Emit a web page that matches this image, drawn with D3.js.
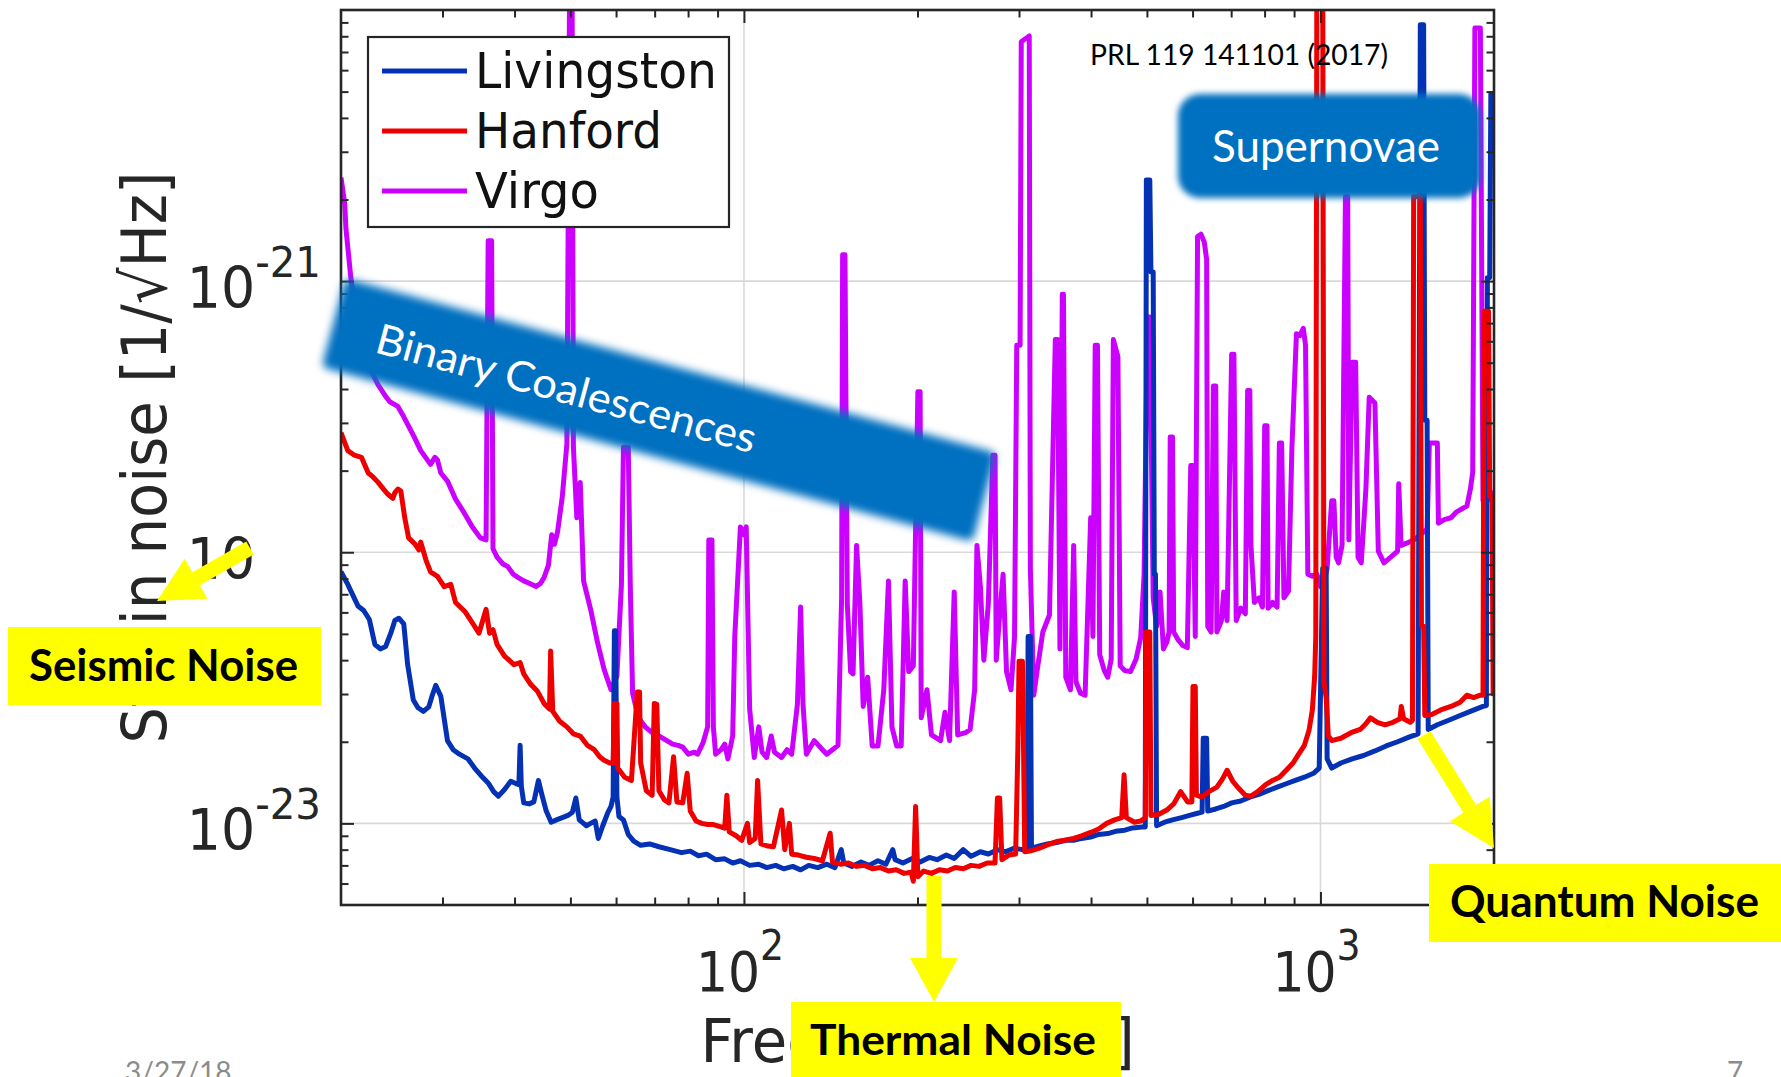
<!DOCTYPE html>
<html>
<head>
<meta charset="utf-8">
<script src="https://cdn.jsdelivr.net/npm/d3@7"></script>
<style>
  html, body { margin: 0; padding: 0; background: #ffffff; overflow: hidden; }
  svg { display: block; }
</style>
</head>
<body>
<svg id="chart" width="1781" height="1077"></svg>
<script>
// Strain noise amplitude spectral density of the three detectors, [frequency Hz, strain 1/sqrt(Hz)]
const livingston = [
  [20.0, 8.47e-23], [20.5, 7.69e-23], [20.9, 7.05e-23], [21.4, 6.34e-23], [21.9, 6.10e-23],
  [22.4, 5.65e-23], [22.9, 4.57e-23], [23.4, 4.40e-23], [23.9, 4.49e-23], [24.4, 5.03e-23],
  [24.8, 5.60e-23], [25.2, 5.71e-23], [25.7, 5.44e-23], [26.1, 3.85e-23], [26.7, 2.85e-23],
  [27.2, 2.67e-23], [27.8, 2.59e-23], [28.4, 2.69e-23], [28.8, 2.97e-23], [29.2, 3.23e-23],
  [29.8, 2.94e-23], [30.6, 2.02e-23], [31.3, 1.87e-23], [32.1, 1.80e-23], [33.2, 1.73e-23],
  [34.1, 1.60e-23], [35.0, 1.50e-23], [36.0, 1.41e-23], [36.8, 1.31e-23], [37.5, 1.26e-23],
  [38.4, 1.33e-23], [39.4, 1.43e-23], [40.3, 1.40e-23], [40.7, 1.39e-23], [40.9, 1.94e-23],
  [41.1, 1.37e-23], [41.5, 1.19e-23], [42.4, 1.18e-23], [43.2, 1.20e-23], [44.0, 1.44e-23],
  [44.6, 1.28e-23], [45.4, 1.11e-23], [46.3, 1.01e-23], [47.3, 1.03e-23], [48.4, 1.05e-23],
  [49.5, 1.07e-23], [50.4, 1.10e-23], [51.1, 1.24e-23], [51.8, 1.03e-23], [53.3, 9.8e-24],
  [54.2, 1.00e-23], [55.2, 1.02e-23], [55.9, 8.8e-24], [56.9, 9.8e-24], [58.0, 1.09e-23],
  [58.8, 1.155e-23], [59.3, 1.25e-23], [59.6, 5.13e-23], [59.9, 5.13e-23], [60.2, 1.25e-23],
  [60.7, 1.06e-23], [61.8, 1.03e-23], [63.0, 9.1e-24], [64.4, 8.6e-24], [66.2, 8.3e-24],
  [68.6, 8.4e-24], [71.2, 8.2e-24], [74.5, 8.0e-24], [77.9, 7.8e-24], [80.7, 7.9e-24],
  [83.4, 7.6e-24], [86.1, 7.7e-24], [89.3, 7.35e-24], [92.6, 7.4e-24], [95.6, 7.14e-24],
  [98.6, 7.28e-24], [102.3, 7.0e-24], [106.1, 7.07e-24], [109.5, 6.87e-24], [113.5, 7.0e-24],
  [117.2, 6.8e-24], [121.5, 6.94e-24], [125.4, 6.74e-24], [129.5, 7.0e-24], [134.3, 6.87e-24],
  [139.2, 7.07e-24], [143.8, 6.87e-24], [147.5, 8.0e-24], [149.0, 7.14e-24], [153.9, 6.94e-24],
  [159.6, 7.2e-24], [164.7, 7.0e-24], [170.8, 7.28e-24], [176.3, 7.07e-24], [181.2, 8.0e-24],
  [182.9, 7.35e-24], [188.7, 7.14e-24], [195.8, 7.42e-24], [202.1, 7.2e-24], [209.6, 7.49e-24],
  [216.3, 7.35e-24], [224.4, 7.64e-24], [231.6, 7.42e-24], [240.1, 8.0e-24], [247.7, 7.56e-24],
  [257.1, 7.86e-24], [265.4, 7.71e-24], [275.2, 8.0e-24], [283.9, 7.86e-24], [294.7, 8.1e-24],
  [304.1, 8.0e-24], [309.7, 8.0e-24], [311.1, 4.89e-23], [313.9, 4.89e-23], [315.3, 8.1e-24],
  [325.6, 8.25e-24], [336.0, 8.4e-24], [348.5, 8.5e-24], [361.4, 8.66e-24], [373.2, 8.66e-24],
  [385.1, 8.8e-24], [399.4, 8.9e-24], [412.3, 9.1e-24], [427.6, 9.17e-24], [441.3, 9.35e-24],
  [457.7, 9.44e-24], [472.4, 9.62e-24], [490.0, 9.7e-24], [496.7, 9.7e-24], [498.9, 2.36e-21],
  [505.8, 2.36e-21], [508.1, 1.08e-21], [512.7, 1.08e-21], [515.0, 8.3e-23], [517.4, 8.3e-23],
  [519.7, 9.8e-24], [536.5, 1.01e-23], [553.8, 1.03e-23], [574.3, 1.05e-23], [592.9, 1.07e-23],
  [612.1, 1.09e-23], [623.3, 1.10e-23], [626.1, 2.06e-23], [634.6, 2.06e-23], [637.5, 1.11e-23],
  [658.2, 1.13e-23], [679.4, 1.155e-23], [701.4, 1.19e-23], [727.3, 1.21e-23], [754.2, 1.25e-23],
  [782.1, 1.28e-23], [811.0, 1.32e-23], [841.0, 1.36e-23], [872.2, 1.40e-23], [904.4, 1.44e-23],
  [937.9, 1.48e-23], [972.6, 1.53e-23], [995.0, 1.60e-23], [1009, 8.71e-23], [1023, 8.71e-23],
  [1027, 1.73e-23], [1046, 1.60e-23], [1085, 1.67e-23], [1135, 1.73e-23], [1188, 1.78e-23],
  [1243, 1.85e-23], [1300, 1.93e-23], [1361, 2.00e-23], [1424, 2.08e-23], [1477, 2.14e-23],
  [1490, 8.83e-21], [1510, 8.83e-21], [1517, 3.07e-22], [1531, 3.07e-22], [1538, 2.22e-23],
  [1595, 2.31e-23], [1669, 2.40e-23], [1747, 2.50e-23], [1829, 2.60e-23], [1914, 2.70e-23],
  [1940, 2.72e-23], [1948, 1.03e-21], [1966, 1.03e-21], [1975, 4.91e-21], [2000, 4.91e-21]
];

const hanford = [
  [20.0, 2.76e-22], [20.55, 2.37e-22], [21.1, 2.28e-22], [21.7, 2.24e-22], [22.3, 1.96e-22],
  [22.7, 1.90e-22], [23.2, 1.81e-22], [23.7, 1.71e-22], [24.1, 1.64e-22], [24.6, 1.58e-22],
  [24.8, 1.66e-22], [25.1, 1.71e-22], [25.4, 1.68e-22], [25.8, 1.34e-22], [26.2, 1.13e-22],
  [26.9, 1.07e-22], [27.3, 1.02e-22], [27.5, 1.09e-22], [28.1, 9.32e-23], [28.6, 8.47e-23],
  [29.4, 8.15e-23], [30.2, 7.47e-23], [31.0, 7.62e-23], [31.6, 6.53e-23], [32.8, 6.05e-23],
  [33.8, 5.49e-23], [34.7, 5.03e-23], [35.7, 6.16e-23], [36.2, 5.03e-23], [36.7, 5.18e-23],
  [37.3, 4.57e-23], [38.4, 4.15e-23], [39.9, 3.85e-23], [40.9, 3.92e-23], [41.5, 3.56e-23],
  [42.6, 3.27e-23], [43.8, 3.08e-23], [45.0, 2.77e-23], [46.0, 2.64e-23], [46.2, 4.32e-23],
  [46.6, 2.59e-23], [47.9, 2.38e-23], [49.3, 2.27e-23], [50.6, 2.14e-23], [52.0, 2.10e-23],
  [53.5, 1.94e-23], [55.0, 1.87e-23], [56.2, 1.76e-23], [57.2, 1.71e-23], [58.5, 1.67e-23],
  [59.3, 1.67e-23], [59.6, 2.77e-23], [60.2, 2.77e-23], [60.4, 1.60e-23], [62.1, 1.48e-23],
  [63.8, 1.44e-23], [65.3, 3.05e-23], [65.9, 3.05e-23], [66.2, 1.67e-23], [67.7, 1.32e-23],
  [69.3, 1.27e-23], [69.9, 2.77e-23], [70.6, 2.75e-23], [71.2, 1.32e-23], [72.8, 1.22e-23],
  [74.1, 1.19e-23], [75.5, 1.76e-23], [76.5, 1.20e-23], [78.3, 1.19e-23], [79.7, 1.53e-23],
  [80.7, 1.11e-23], [82.6, 1.02e-23], [84.5, 1.00e-23], [86.5, 9.9e-24], [88.5, 9.9e-24],
  [91.2, 9.7e-24], [92.6, 9.6e-24], [93.4, 1.27e-23], [94.3, 9.3e-24], [96.9, 9.0e-24],
  [99.1, 8.66e-24], [101.4, 1.00e-23], [102.3, 8.5e-24], [104.6, 8.8e-24], [105.6, 1.44e-23],
  [107.0, 8.4e-24], [110.0, 8.25e-24], [112.5, 8.2e-24], [116.2, 1.12e-23], [117.7, 8.0e-24],
  [119.9, 1.00e-23], [121.0, 7.7e-24], [124.3, 7.64e-24], [128.3, 7.5e-24], [132.4, 7.42e-24],
  [136.8, 7.28e-24], [141.1, 9.2e-24], [142.4, 7.2e-24], [147.0, 7.07e-24], [151.8, 7.14e-24],
  [156.8, 6.94e-24], [161.8, 7.0e-24], [167.0, 6.8e-24], [172.5, 6.87e-24], [178.1, 6.67e-24],
  [183.7, 6.74e-24], [189.6, 6.54e-24], [195.0, 6.6e-24], [196.7, 6.12e-24], [198.5, 1.155e-23],
  [200.3, 6.36e-24], [204.9, 6.67e-24], [211.5, 6.54e-24], [218.3, 6.74e-24], [225.4, 6.67e-24],
  [232.6, 6.87e-24], [240.1, 6.8e-24], [247.7, 7.0e-24], [255.6, 6.94e-24], [264.2, 7.14e-24],
  [272.6, 7.14e-24], [275.2, 1.24e-23], [277.7, 1.24e-23], [280.2, 7.35e-24], [288.0, 7.64e-24],
  [296.0, 7.71e-24], [298.6, 1.87e-23], [300.0, 3.96e-23], [304.1, 3.96e-23], [305.5, 1.87e-23],
  [306.9, 7.86e-24], [315.3, 7.93e-24], [325.6, 8.1e-24], [336.0, 8.33e-24], [348.5, 8.57e-24],
  [359.7, 8.66e-24], [373.2, 8.8e-24], [385.1, 9.0e-24], [399.4, 9.26e-24], [412.3, 9.53e-24],
  [425.7, 1.00e-23], [439.3, 1.03e-23], [452.1, 1.05e-23], [456.4, 1.51e-23], [460.6, 1.05e-23],
  [475.8, 1.01e-23], [487.8, 1.02e-23], [496.7, 1.05e-23], [498.9, 5.08e-23], [505.8, 5.08e-23],
  [508.1, 1.07e-23], [524.5, 1.08e-23], [541.4, 1.12e-23], [556.4, 1.18e-23], [572.2, 1.31e-23],
  [588.2, 1.20e-23], [598.3, 1.20e-23], [601.0, 3.20e-23], [606.5, 3.20e-23], [609.3, 1.27e-23],
  [623.3, 1.25e-23], [640.4, 1.31e-23], [661.2, 1.36e-23], [676.3, 1.46e-23], [688.7, 1.57e-23],
  [704.5, 1.43e-23], [720.7, 1.35e-23], [740.5, 1.27e-23], [757.6, 1.26e-23], [778.5, 1.31e-23],
  [803.6, 1.39e-23], [825.9, 1.44e-23], [848.7, 1.48e-23], [872.2, 1.57e-23], [896.3, 1.67e-23],
  [916.7, 1.80e-23], [937.9, 1.94e-23], [955.2, 2.20e-23], [968.2, 2.62e-23], [977.1, 3.49e-23],
  [981.5, 4.89e-23], [986.0, 2.0e-20], [1009, 2.0e-20], [1014, 3.33e-23], [1023, 2.91e-23],
  [1032, 2.10e-23], [1046, 2.02e-23], [1085, 2.06e-23], [1130, 2.16e-23], [1172, 2.22e-23],
  [1199, 2.33e-23], [1221, 2.45e-23], [1255, 2.36e-23], [1294, 2.31e-23], [1336, 2.36e-23],
  [1374, 2.43e-23], [1381, 2.70e-23], [1394, 2.43e-23], [1431, 2.36e-23], [1444, 2.40e-23],
  [1451, 2.05e-21], [1490, 2.05e-21], [1497, 5.33e-23], [1510, 5.33e-23], [1517, 2.50e-23],
  [1559, 2.52e-23], [1617, 2.62e-23], [1684, 2.70e-23], [1747, 2.80e-23], [1795, 2.97e-23],
  [1843, 2.91e-23], [1894, 2.97e-23], [1914, 2.97e-23], [1922, 7.74e-22], [1957, 7.74e-22],
  [1966, 1.61e-22], [1984, 1.61e-22], [1993, 3.0e-23], [2000, 3.0e-23]
];

const virgo = [
  [20.0, 2.41e-21], [20.3, 1.93e-21], [20.4, 1.56e-21], [20.8, 1.03e-21], [21.2, 7.59e-22],
  [21.7, 5.97e-22], [22.4, 4.83e-22], [23.2, 4.14e-22], [23.9, 3.76e-22], [24.3, 3.59e-22],
  [25.1, 3.45e-22], [25.7, 3.16e-22], [26.1, 2.96e-22], [26.8, 2.66e-22], [27.5, 2.37e-22],
  [28.6, 2.11e-22], [29.1, 2.24e-22], [29.4, 2.19e-22], [29.8, 1.96e-22], [30.6, 1.83e-22],
  [31.6, 1.57e-22], [32.7, 1.40e-22], [33.8, 1.24e-22], [34.9, 1.13e-22], [35.7, 1.11e-22],
  [36.0, 1.41e-21], [36.5, 1.41e-21], [36.7, 1.03e-22], [37.3, 9.59e-23], [38.2, 9.05e-23],
  [38.9, 8.87e-23], [39.8, 8.30e-23], [40.6, 8.06e-23], [41.5, 7.84e-23], [42.4, 7.69e-23],
  [43.6, 7.47e-23], [44.4, 7.69e-23], [45.0, 8.06e-23], [45.8, 8.97e-23], [46.4, 1.16e-22],
  [46.9, 1.07e-22], [47.5, 1.19e-22], [48.4, 1.60e-22], [49.3, 2.51e-22], [49.9, 2.0e-20],
  [50.3, 2.0e-20], [50.6, 2.44e-22], [51.3, 1.34e-22], [52.0, 1.81e-22], [52.7, 7.84e-23],
  [54.2, 6.16e-23], [55.7, 4.66e-23], [57.2, 3.70e-23], [58.8, 3.11e-23], [60.2, 3.49e-23],
  [61.3, 7.62e-23], [61.8, 2.44e-22], [63.0, 2.44e-22], [63.5, 7.62e-23], [64.1, 3.02e-23],
  [65.6, 2.45e-23], [67.4, 2.27e-23], [69.3, 2.16e-23], [71.2, 2.10e-23], [73.5, 2.02e-23],
  [75.2, 1.96e-23], [76.9, 1.94e-23], [78.3, 1.91e-23], [80.1, 1.80e-23], [82.0, 1.83e-23],
  [83.1, 1.80e-23], [84.9, 1.98e-23], [86.5, 2.27e-23], [86.9, 1.11e-22], [88.0, 1.11e-22],
  [88.5, 2.27e-23], [89.3, 1.80e-23], [91.3, 1.87e-23], [92.6, 1.96e-23], [93.8, 1.73e-23],
  [95.6, 2.10e-23], [96.4, 4.89e-23], [98.6, 1.24e-22], [100.0, 1.16e-22], [100.9, 1.24e-22],
  [102.3, 2.64e-23], [104.2, 1.75e-23], [106.1, 2.27e-23], [107.5, 1.83e-23], [109.5, 1.75e-23],
  [111.5, 2.10e-23], [113.0, 1.83e-23], [116.2, 1.75e-23], [118.8, 1.87e-23], [121.0, 1.80e-23],
  [123.8, 2.75e-23], [125.4, 6.28e-23], [126.6, 2.75e-23], [128.3, 1.80e-23], [132.4, 2.02e-23],
  [136.2, 1.89e-23], [139.2, 1.80e-23], [142.4, 1.87e-23], [145.6, 1.94e-23], [147.7, 6.79e-23],
  [148.3, 1.25e-21], [149.7, 1.25e-21], [151.1, 6.47e-23], [153.1, 3.63e-23], [154.6, 3.56e-23],
  [156.8, 1.06e-22], [158.9, 6.47e-23], [161.0, 2.70e-23], [163.9, 3.46e-23], [166.9, 1.93e-23],
  [170.8, 1.93e-23], [174.8, 3.11e-23], [178.1, 7.84e-23], [180.6, 2.27e-23], [184.0, 1.93e-23],
  [187.4, 1.93e-23], [190.4, 7.84e-23], [193.1, 3.63e-23], [196.7, 3.81e-23], [200.3, 3.91e-22],
  [202.1, 3.91e-22], [203.0, 2.45e-23], [207.7, 3.11e-23], [211.5, 2.12e-23], [219.3, 2.02e-23],
  [223.2, 2.57e-23], [227.3, 2.02e-23], [231.6, 7.14e-23], [234.8, 2.12e-23], [242.3, 2.16e-23],
  [246.8, 2.22e-23], [251.3, 3.11e-23], [253.6, 1.06e-22], [257.1, 7.47e-23], [260.7, 4.00e-23],
  [265.4, 6.47e-23], [270.2, 2.28e-22], [272.6, 2.28e-22], [273.9, 4.00e-23], [277.7, 5.87e-23],
  [281.5, 8.30e-23], [285.4, 3.63e-23], [290.6, 3.11e-23], [294.7, 4.89e-23], [297.3, 5.80e-22],
  [301.3, 5.80e-22], [302.7, 7.64e-21], [312.5, 8.02e-21], [313.9, 8.71e-23], [318.2, 2.97e-23],
  [322.5, 3.66e-23], [329.9, 5.08e-23], [338.8, 5.87e-23], [346.8, 6.09e-22], [350.0, 6.09e-22],
  [353.3, 4.40e-23], [356.6, 8.94e-22], [358.3, 8.94e-22], [361.6, 3.46e-23], [368.4, 3.11e-23],
  [373.2, 1.06e-22], [376.6, 3.33e-23], [383.5, 3.02e-23], [390.6, 2.97e-23], [399.4, 1.34e-22],
  [403.0, 4.89e-23], [406.7, 5.80e-22], [410.4, 5.80e-22], [414.1, 4.19e-23], [421.7, 3.66e-23],
  [427.6, 3.46e-23], [433.5, 4.04e-23], [437.3, 6.09e-22], [445.3, 5.27e-22], [449.4, 3.81e-23],
  [457.7, 3.66e-23], [468.4, 3.63e-23], [478.9, 4.04e-23], [487.8, 4.85e-23], [494.4, 8.30e-23],
  [501.2, 7.38e-22], [505.8, 7.38e-22], [512.7, 6.79e-23], [519.7, 5.33e-23], [526.9, 7.14e-23],
  [534.1, 4.40e-23], [541.4, 4.66e-23], [546.3, 5.08e-23], [548.8, 2.66e-22], [553.8, 2.66e-22],
  [556.4, 5.08e-23], [566.6, 4.75e-23], [577.0, 4.53e-23], [587.6, 4.45e-23], [595.7, 2.09e-22],
  [601.0, 2.09e-22], [606.5, 4.89e-23], [612.1, 1.46e-21], [620.5, 1.49e-21], [628.9, 1.39e-21],
  [634.7, 1.20e-21], [637.5, 5.33e-23], [646.2, 5.08e-23], [652.1, 4.10e-22], [658.2, 4.10e-22],
  [661.2, 5.08e-23], [673.3, 5.60e-23], [679.5, 7.14e-23], [688.7, 5.60e-23], [701.4, 5.37e-22],
  [707.8, 5.37e-22], [714.3, 5.60e-23], [727.4, 6.22e-23], [740.8, 5.93e-23], [747.6, 3.95e-22],
  [754.2, 3.95e-22], [757.6, 1.06e-22], [768.0, 6.53e-23], [782.4, 6.79e-23], [793.2, 6.28e-23],
  [800.4, 2.93e-22], [807.7, 2.93e-22], [811.4, 6.22e-23], [825.9, 6.53e-23], [841.0, 6.28e-23],
  [848.7, 2.53e-22], [856.4, 2.53e-22], [864.3, 6.79e-23], [880.1, 7.19e-23], [892.2, 2.42e-22],
  [908.5, 6.39e-22], [921.0, 6.30e-22], [933.7, 6.70e-22], [942.2, 5.80e-22], [950.8, 8.30e-23],
  [968.2, 8.15e-23], [986.0, 8.30e-23], [1000, 7.47e-23], [1014, 7.76e-23], [1027, 8.71e-23],
  [1046, 1.55e-22], [1055, 1.55e-22], [1065, 9.59e-23], [1075, 9.14e-23], [1090, 1.06e-22],
  [1105, 2.05e-21], [1115, 2.05e-21], [1120, 1.11e-22], [1135, 5.02e-22], [1151, 5.02e-22],
  [1162, 9.59e-23], [1177, 9.14e-23], [1199, 1.71e-22], [1215, 3.73e-22], [1243, 3.55e-22],
  [1260, 1.01e-22], [1289, 9.14e-23], [1324, 9.59e-23], [1361, 1.01e-22], [1367, 1.79e-22],
  [1380, 1.06e-22], [1411, 1.08e-22], [1451, 1.11e-22], [1490, 1.16e-22], [1531, 1.22e-22],
  [1545, 2.53e-22], [1595, 2.53e-22], [1602, 1.28e-22], [1639, 1.32e-22], [1684, 1.34e-22],
  [1723, 1.41e-22], [1763, 1.45e-22], [1795, 1.48e-22], [1820, 1.71e-22], [1837, 1.97e-22],
  [1853, 8.58e-21], [1894, 8.58e-21], [1914, 1.55e-22], [1948, 1.55e-22], [1984, 1.63e-22],
  [2000, 1.68e-22]
];

const legendNames = ["Livingston", "Hanford", "Virgo"];
const xTickMajor = [100, 1000];
const xTickExponents = ["2", "3"];
const xTickMinor = [30, 40, 50, 60, 70, 80, 90, 200, 300, 400, 500, 600, 700, 800, 900];
const yTickMajor = [1e-23, 1e-22, 1e-21];
const yTickExponents = ["-23", "-22", "-21"];
const yTickMinor = [6e-24, 7e-24, 8e-24, 9e-24,
  2e-23, 3e-23, 4e-23, 5e-23, 6e-23, 7e-23, 8e-23, 9e-23,
  2e-22, 3e-22, 4e-22, 5e-22, 6e-22, 7e-22, 8e-22, 9e-22,
  2e-21, 3e-21, 4e-21, 5e-21, 6e-21, 7e-21, 8e-21, 9e-21];
const xLabel = "Frequency [Hz]";
const yLabel = "Strain noise [1/\u221AHz]";
const citation = "PRL 119 141101 (2017)";
const sourceBands = ["Binary Coalescences", "Supernovae"];
const noiseLabels = ["Seismic Noise", "Thermal Noise", "Quantum Noise"];
const slideFooter = ["3/27/18", "7"];

// ---------------------------------------------------------------------------
const svg = d3.select("#chart");
const plot = { left: 341, right: 1494, top: 10, bottom: 905 };
const x = d3.scaleLog().domain([20, 2000]).range([plot.left, plot.right]);
const y = d3.scaleLog().domain([5e-24, 1e-20]).range([plot.bottom, plot.top]);

const axisColor = "#262626";
const colors = { Livingston: "#0532b4", Hanford: "#ee0000", Virgo: "#cc00ff" };

const defs = svg.append("defs");
defs.append("clipPath").attr("id", "plot-clip").append("rect")
  .attr("x", plot.left).attr("y", plot.top)
  .attr("width", plot.right - plot.left).attr("height", plot.bottom - plot.top);
const soft4 = defs.append("filter").attr("id", "soft4")
  .attr("x", "-10%").attr("y", "-40%").attr("width", "120%").attr("height", "180%");
soft4.append("feGaussianBlur").attr("stdDeviation", 4);
const soft3 = defs.append("filter").attr("id", "soft3")
  .attr("x", "-10%").attr("y", "-20%").attr("width", "120%").attr("height", "140%");
soft3.append("feGaussianBlur").attr("stdDeviation", 3);

// grid lines at the decades
const grid = svg.append("g").attr("stroke", "#d9d9d9").attr("stroke-width", 1.6);
grid.selectAll("line.gx").data(xTickMajor).join("line")
  .attr("x1", d => x(d)).attr("x2", d => x(d)).attr("y1", plot.top).attr("y2", plot.bottom);
grid.selectAll("line.gy").data(yTickMajor).join("line")
  .attr("x1", plot.left).attr("x2", plot.right).attr("y1", d => y(d)).attr("y2", d => y(d));

// spectra
const line = d3.line().x(d => x(d[0])).y(d => y(d[1]));
const curves = svg.append("g").attr("clip-path", "url(#plot-clip)")
  .attr("fill", "none").attr("stroke-width", 5)
  .attr("stroke-linejoin", "round").attr("stroke-linecap", "butt");
curves.append("path").datum(virgo).attr("stroke", colors.Virgo).attr("d", line);
curves.append("path").datum(livingston).attr("stroke", colors.Livingston).attr("d", line);
curves.append("path").datum(hanford).attr("stroke", colors.Hanford).attr("d", line);

// inward ticks on all four sides
function tickSet(axis, values, size, transform) {
  svg.append("g").attr("transform", transform)
    .call(axis.tickValues(values).tickSizeInner(-size).tickSizeOuter(0).tickFormat(""))
    .call(g => g.select(".domain").remove())
    .call(g => g.selectAll("text").remove())
    .call(g => g.selectAll("line").attr("stroke", axisColor).attr("stroke-width", 2));
}
[[xTickMajor, 13], [xTickMinor, 7.5]].forEach(([vals, s]) => {
  tickSet(d3.axisBottom(x), vals, s, `translate(0,${plot.bottom})`);
  tickSet(d3.axisTop(x), vals, s, `translate(0,${plot.top})`);
});
[[yTickMajor, 13], [yTickMinor, 7.5]].forEach(([vals, s]) => {
  tickSet(d3.axisLeft(y), vals, s, `translate(${plot.left},0)`);
  tickSet(d3.axisRight(y), vals, s, `translate(${plot.right},0)`);
});
svg.append("rect").attr("x", plot.left).attr("y", plot.top)
  .attr("width", plot.right - plot.left).attr("height", plot.bottom - plot.top)
  .attr("fill", "none").attr("stroke", axisColor).attr("stroke-width", 2.6);

// text helper: optional rotation and horizontal squeeze in the text's own frame
function label(parent, str, px, py, o) {
  let tf = `translate(${px},${py})`;
  if (o.rotate) tf += ` rotate(${o.rotate})`;
  if (o.sx) tf += ` scale(${o.sx},1)`;
  const t = parent.append("g").attr("transform", tf).append("text")
    .attr("font-family", o.family).attr("font-size", o.size)
    .attr("font-weight", o.weight || "normal").attr("fill", o.fill)
    .attr("text-anchor", o.anchor || "start").text(str);
  if (o.length) t.attr("textLength", o.length).attr("lengthAdjust", "spacingAndGlyphs");
  return t;
}
const sans = "'DejaVu Sans', Verdana, sans-serif";
const office = "Lato, 'Open Sans', sans-serif";

// decade tick labels with superscript exponents
function powerLabel(px, py, exponent, anchor, sx) {
  const t = svg.append("g").attr("transform", `translate(${px},${py}) scale(${sx},1)`)
    .append("text").attr("font-family", sans).attr("font-size", 56)
    .attr("fill", axisColor).attr("text-anchor", anchor);
  t.append("tspan").text("10");
  t.append("tspan").attr("dy", -31).attr("font-size", 42).text(exponent);
}
xTickMajor.forEach((v, i) => powerLabel(x(v) - 4, 991, xTickExponents[i], "middle", 0.9));
yTickMajor.forEach((v, i) => powerLabel(321, y(v) + 27, yTickExponents[i], "end", 0.96));

// axis titles
label(svg, xLabel, (plot.left + plot.right) / 2, 1062,
  { family: sans, size: 60, fill: axisColor, anchor: "middle", sx: 0.96 });
label(svg, yLabel, 166, (plot.top + plot.bottom) / 2,
  { family: sans, size: 62, fill: axisColor, anchor: "middle", rotate: -90, sx: 0.93 });

// legend
const legend = svg.append("g");
legend.append("rect").attr("x", 368).attr("y", 37).attr("width", 361).attr("height", 190)
  .attr("fill", "#ffffff").attr("stroke", axisColor).attr("stroke-width", 2.2);
const legendLen = [242, 187, 124];
legendNames.forEach((name, i) => {
  const cy = 71 + i * 60;
  legend.append("line").attr("x1", 382).attr("x2", 467).attr("y1", cy).attr("y2", cy)
    .attr("stroke", colors[name]).attr("stroke-width", 5);
  label(legend, name, 475, cy + 17, { family: sans, size: 49, fill: "#111111", length: legendLen[i] });
});

// citation
label(svg, citation, 1090, 65, { family: office, size: 28, fill: "#000000", length: 298 });

// source bands
const bandFill = "#0070c0";
const binary = svg.append("g").attr("transform", "translate(659,410) rotate(15)");
binary.append("rect").attr("x", -337).attr("y", -46).attr("width", 674).attr("height", 92)
  .attr("rx", 6).attr("fill", bandFill).attr("filter", "url(#soft4)");
label(binary, sourceBands[0], -291, 18, { family: office, size: 42, fill: "#ffffff", length: 392 });

svg.append("rect").attr("x", 1178).attr("y", 94).attr("width", 303).attr("height", 104)
  .attr("rx", 22).attr("fill", bandFill).attr("filter", "url(#soft3)");
label(svg, sourceBands[1], 1212, 162, { family: office, size: 44, fill: "#ffffff", length: 228 });

// noise callouts
const yellow = "#ffff00";
svg.append("rect").attr("x", 254).attr("y", 514).attr("width", 74).attr("height", 40).attr("fill", "#ffffff");

function arrowPoints(tail, tip, shaft, headW, headL) {
  const dx = tip[0] - tail[0], dy = tip[1] - tail[1], L = Math.hypot(dx, dy);
  const ux = dx / L, uy = dy / L, px = -uy, py = ux;
  const bx = tip[0] - ux * headL, by = tip[1] - uy * headL;
  return [
    [tail[0] + px * shaft / 2, tail[1] + py * shaft / 2],
    [bx + px * shaft / 2, by + py * shaft / 2],
    [bx + px * headW / 2, by + py * headW / 2],
    tip,
    [bx - px * headW / 2, by - py * headW / 2],
    [bx - px * shaft / 2, by - py * shaft / 2],
    [tail[0] - px * shaft / 2, tail[1] - py * shaft / 2]
  ].map(p => p.join(",")).join(" ");
}
const callouts = [
  { text: noiseLabels[0], box: [8, 627, 313, 78], tx: 29, ty: 681, len: 269, size: 44,
    arrow: [[250, 548], [157, 601], 15, 46, 45] },
  { text: noiseLabels[1], box: [791, 1002, 330, 75], tx: 810, ty: 1055, len: 286, size: 42,
    arrow: [[934, 876], [934, 1002], 15, 48, 44] },
  { text: noiseLabels[2], box: [1429, 864, 352, 78], tx: 1450, ty: 917, len: 309, size: 44,
    arrow: [[1424, 735], [1494, 848], 15, 47, 46] }
];
callouts.forEach(c => {
  svg.append("polygon").attr("points", arrowPoints(...c.arrow)).attr("fill", yellow);
  svg.append("rect").attr("x", c.box[0]).attr("y", c.box[1]).attr("width", c.box[2]).attr("height", c.box[3])
    .attr("fill", yellow);
  label(svg, c.text, c.tx, c.ty, { family: office, size: c.size, weight: 700, fill: "#000000", length: c.len });
});

// slide footer
label(svg, slideFooter[0], 125, 1082, { family: office, size: 28, fill: "#8b8b8b" });
label(svg, slideFooter[1], 1727, 1082, { family: office, size: 28, fill: "#8b8b8b" });
</script>
</body>
</html>
